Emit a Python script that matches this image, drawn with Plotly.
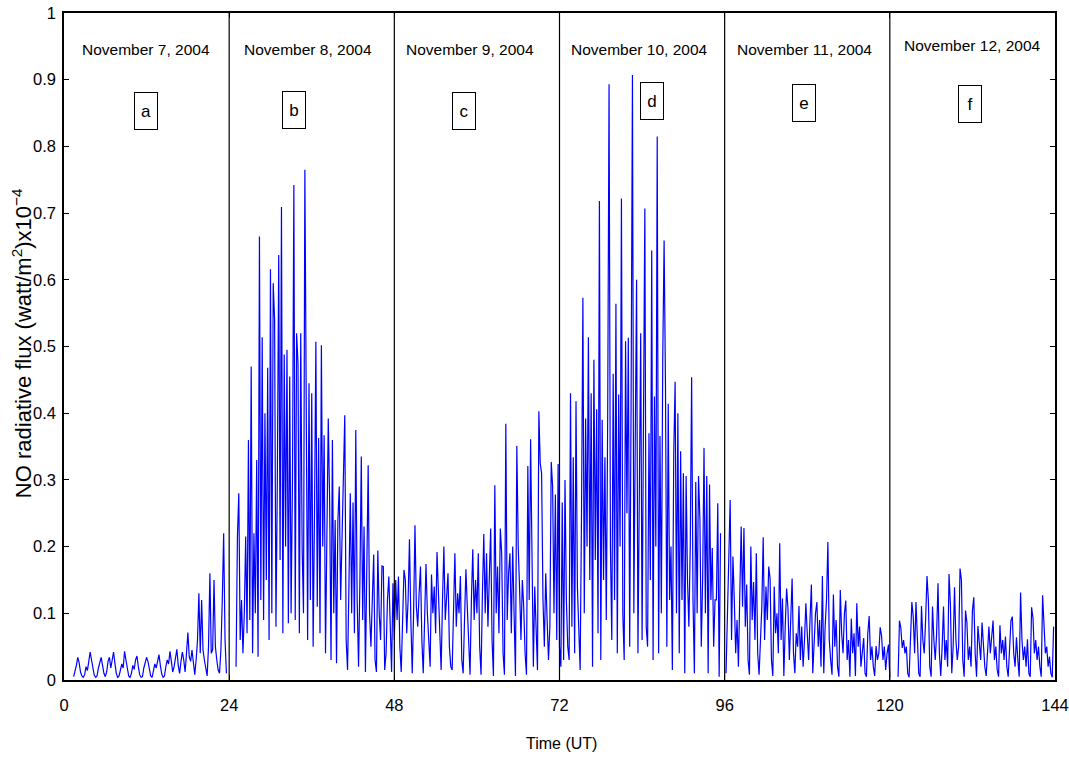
import plotly.graph_objects as go

# NO radiative flux, sampled every 0.2 h (UT hours since 00 UT on 7 Nov 2004).
# None marks hours with no data.
STEP_H = 0.2

nov07 = [
    None, None, None, None, None, None, None, 0.005,
    0.012, 0.022, 0.034, 0.026, 0.012, 0.006, 0.004, 0.008,
    0.02, 0.014, 0.028, 0.042, 0.03, 0.016, 0.007, 0.004,
    0.006, 0.018, 0.026, 0.034, 0.022, 0.01, 0.005, 0.012,
    0.028, 0.034, 0.018, 0.03, 0.042, 0.025, 0.01, 0.004,
    0.006, 0.015, 0.024, 0.018, 0.043, 0.03, 0.014, 0.006,
    0.004, 0.01, 0.022, 0.016, 0.03, 0.036, 0.02, 0.008,
    0.004, 0.005, 0.018, 0.026, 0.034, 0.028, 0.014, 0.006,
    0.004, 0.012, 0.024, 0.018, 0.03, 0.038, 0.022, 0.009,
    0.004, 0.006, 0.02, 0.03, 0.024, 0.043, 0.028, 0.012,
    0.02, 0.035, 0.046, 0.022, 0.01, 0.028, 0.042, 0.03,
    0.012, 0.04, 0.071, 0.035, 0.028, 0.045, 0.02, 0.008,
    0.03, 0.06, 0.13, 0.04, 0.12, 0.045, 0.03, 0.015,
    0.006, 0.05, 0.16, 0.04, 0.045, 0.15, 0.05, 0.03,
    0.015, 0.01, 0.045, 0.12, 0.22, 0.06, 0.01, None,
]

nov08 = [
    None, None, None, None, None, 0.02, 0.215, 0.28,
    0.06, 0.12, 0.04, 0.1, 0.215, 0.07, 0.36, 0.09,
    0.47, 0.04, 0.22, 0.1, 0.33, 0.035, 0.665, 0.12,
    0.514, 0.09, 0.40, 0.15, 0.468, 0.06, 0.616, 0.1,
    0.595, 0.54, 0.08, 0.3, 0.637, 0.18, 0.709, 0.07,
    0.488, 0.2, 0.495, 0.085, 0.455, 0.1, 0.3, 0.742,
    0.09, 0.52, 0.475, 0.07, 0.52, 0.2, 0.1, 0.765,
    0.40, 0.06, 0.445, 0.12, 0.43, 0.05, 0.25, 0.507,
    0.11, 0.363, 0.07, 0.502, 0.2, 0.367, 0.04, 0.18,
    0.392, 0.27, 0.03, 0.36, 0.1, 0.24, 0.025, 0.24,
    0.29, 0.12, 0.2, 0.315, 0.397, 0.06, 0.015, 0.14,
    0.28, 0.1, 0.266, 0.07, 0.375, 0.12, 0.02, 0.15,
    0.335, 0.09, 0.23, 0.012, 0.15, 0.322, 0.1, 0.05,
    0.12, 0.188, 0.03, 0.012, 0.194, 0.1, 0.06, 0.171,
    0.17, 0.015, 0.04, 0.12, 0.155, 0.06, 0.012, 0.145,
]

nov09 = [
    0.06, 0.15, 0.09, 0.155, 0.05, 0.012, 0.08, 0.165,
    0.15, 0.07, 0.12, 0.211, 0.09, 0.01, 0.1, 0.232,
    0.11, 0.08, 0.13, 0.17, 0.06, 0.01, 0.09, 0.174,
    0.1, 0.06, 0.02, 0.158, 0.1, 0.14, 0.07, 0.192,
    0.12, 0.05, 0.015, 0.12, 0.2, 0.09, 0.13, 0.16,
    0.05, 0.02, 0.015, 0.11, 0.19, 0.08, 0.13, 0.1,
    0.156, 0.03, 0.01, 0.09, 0.166, 0.11, 0.06, 0.008,
    0.12, 0.196, 0.09, 0.15, 0.1, 0.19, 0.05, 0.008,
    0.13, 0.219, 0.1, 0.19, 0.08, 0.14, 0.227, 0.06,
    0.006, 0.292, 0.1, 0.17, 0.07, 0.227, 0.19, 0.04,
    0.008, 0.384, 0.09, 0.16, 0.19, 0.07, 0.2, 0.1,
    0.006, 0.351, 0.2, 0.138, 0.06, 0.15, 0.11, 0.04,
    0.008, 0.321, 0.12, 0.361, 0.14, 0.02, 0.14, 0.09,
    0.015, 0.403, 0.325, 0.31, 0.12, 0.05, 0.16, 0.09,
    0.03, 0.08, 0.327, 0.29, 0.1, 0.278, 0.06, 0.324,
]

nov10 = [
    0.05, 0.02, 0.266, 0.03, 0.30, 0.12, 0.05, 0.03,
    0.43, 0.08, 0.334, 0.04, 0.418, 0.14, 0.06, 0.015,
    0.25, 0.573, 0.1, 0.392, 0.2, 0.514, 0.15, 0.43,
    0.02, 0.48, 0.18, 0.406, 0.07, 0.718, 0.03, 0.39,
    0.15, 0.334, 0.09, 0.388, 0.893, 0.2, 0.06, 0.459,
    0.12, 0.564, 0.04, 0.428, 0.2, 0.722, 0.1, 0.03,
    0.508, 0.25, 0.513, 0.05, 0.408, 0.907, 0.1, 0.345,
    0.60, 0.04, 0.3, 0.52, 0.06, 0.47, 0.707, 0.08,
    0.05, 0.37, 0.15, 0.644, 0.03, 0.425, 0.2, 0.815,
    0.04, 0.366, 0.1, 0.48, 0.659, 0.442, 0.05, 0.414,
    0.12, 0.2, 0.015, 0.34, 0.447, 0.1, 0.40, 0.04,
    0.343, 0.12, 0.31, 0.01, 0.306, 0.15, 0.08, 0.2,
    0.454, 0.12, 0.01, 0.297, 0.1, 0.306, 0.242, 0.05,
    0.15, 0.348, 0.1, 0.306, 0.01, 0.293, 0.12, 0.198,
    0.05, 0.12, 0.12, 0.265, 0.005, 0.22, None, None,
]

nov11 = [
    None, 0.01, 0.1, 0.215, 0.27, 0.06, 0.185, 0.12,
    0.04, 0.09, 0.02, 0.13, 0.23, 0.11, 0.228, 0.08,
    0.143, 0.03, 0.008, 0.2, 0.09, 0.147, 0.06, 0.19,
    0.04, 0.008, 0.07, 0.11, 0.214, 0.06, 0.14, 0.09,
    0.17, 0.152, 0.03, 0.006, 0.14, 0.07, 0.1, 0.04,
    0.205, 0.06, 0.122, 0.006, 0.08, 0.137, 0.107, 0.03,
    0.09, 0.152, 0.04, 0.01, 0.07, 0.05, 0.111, 0.03,
    0.08, 0.02, 0.06, 0.115, 0.07, 0.03, 0.09, 0.143,
    0.01, 0.06, 0.1, 0.117, 0.05, 0.09, 0.02, 0.156,
    0.01, 0.08, 0.12, 0.207, 0.06, 0.03, 0.008, 0.128,
    0.05, 0.09, 0.02, 0.005, 0.135, 0.07, 0.04, 0.1,
    0.119, 0.03, 0.06, 0.005, 0.092, 0.04, 0.07, 0.006,
    0.115, 0.05, 0.08, 0.02, 0.04, 0.063, 0.01, 0.005,
    0.07, 0.096, 0.03, 0.05, 0.02, 0.006, 0.051, 0.03,
    0.04, 0.079, 0.066, 0.03, 0.05, 0.015, 0.04, 0.053,
]

nov12 = [
    0.004, None, None, None, None, None, 0.005, 0.089,
    0.078, 0.048, 0.06, 0.04, 0.05, 0.01, 0.004, 0.06,
    0.117, 0.095, 0.04, 0.117, 0.05, 0.01, 0.005, 0.111,
    0.06, 0.04, 0.09, 0.156, 0.12, 0.02, 0.005, 0.11,
    0.06, 0.03, 0.07, 0.145, 0.04, 0.006, 0.05, 0.11,
    0.03, 0.06, 0.02, 0.159, 0.115, 0.01, 0.05, 0.139,
    0.06, 0.03, 0.05, 0.167, 0.15, 0.03, 0.005, 0.104,
    0.086, 0.03, 0.05, 0.02, 0.104, 0.124, 0.04, 0.005,
    0.081, 0.05, 0.03, 0.086, 0.05, 0.02, 0.006, 0.05,
    0.08, 0.04, 0.06, 0.089, 0.03, 0.05, 0.015, 0.005,
    0.082, 0.04, 0.06, 0.03, 0.065, 0.02, 0.005, 0.05,
    0.089, 0.095, 0.04, 0.02, 0.064, 0.03, 0.005, 0.131,
    0.06, 0.03, 0.05, 0.02, 0.061, 0.01, 0.005, 0.109,
    0.093, 0.04, 0.06, 0.03, 0.05, 0.02, 0.005, 0.127,
    0.09, 0.04, 0.05, 0.02, 0.035, 0.01, 0.004, 0.08,
]

day_labels = ["November 7, 2004", "November 8, 2004", "November 9, 2004",
              "November 10, 2004", "November 11, 2004", "November 12, 2004"]
panel_letters = ["a", "b", "c", "d", "e", "f"]
day_boundaries = [24, 48, 72, 96, 120]
x_ticks = [0, 24, 48, 72, 96, 120, 144]
y_ticks = [0, 0.1, 0.2, 0.3, 0.4, 0.5, 0.6, 0.7, 0.8, 0.9, 1]

flux = nov07 + nov08 + nov09 + nov10 + nov11 + nov12
time_ut = [round(i * STEP_H, 1) for i in range(len(flux))]

FONT = "Liberation Sans, Arial, Helvetica, sans-serif"

fig = go.Figure()
fig.add_trace(go.Scatter(
    x=time_ut, y=flux, mode="lines",
    line=dict(color="#0000ff", width=1.2),
    connectgaps=False, showlegend=False, hoverinfo="x+y",
))

# day separators
for xb in day_boundaries:
    fig.add_shape(type="line", xref="x", yref="paper", x0=xb, x1=xb, y0=0, y1=1,
                  line=dict(color="black", width=1.2), layer="above")

annotations = []
# date titles and panel letters, positioned in data coordinates
label_pos = [(11.9, 0.945), (35.4, 0.945), (59.0, 0.945),
             (83.6, 0.945), (107.6, 0.945), (132.0, 0.951)]
letter_pos = [(11.9, 0.853), (33.4, 0.855), (58.1, 0.853),
              (85.5, 0.868), (107.5, 0.865), (131.7, 0.864)]
for (lx, ly), txt in zip(label_pos, day_labels):
    annotations.append(dict(x=lx, y=ly, xref="x", yref="y", text=txt, showarrow=False,
                            font=dict(family=FONT, size=15.5, color="black"),
                            xanchor="center", yanchor="middle"))
for (lx, ly), txt in zip(letter_pos, panel_letters):
    annotations.append(dict(x=lx, y=ly, xref="x", yref="y", text=txt, showarrow=False,
                            font=dict(family=FONT, size=17, color="black"),
                            xanchor="center", yanchor="middle",
                            width=20, height=34, borderpad=1,
                            bordercolor="black", borderwidth=1, bgcolor="white"))
# axis titles
annotations.append(dict(x=-0.0424, y=0.505, xref="paper", yref="paper",
                        text="NO radiative flux (watt/m<sup>2</sup>)x10<sup>\u22124</sup>",
                        textangle=-90, showarrow=False,
                        font=dict(family=FONT, size=22, color="black"),
                        xanchor="center", yanchor="middle"))
annotations.append(dict(x=0.502, y=-0.0945, xref="paper", yref="paper",
                        text="Time (UT)", showarrow=False,
                        font=dict(family=FONT, size=16, color="black"),
                        xanchor="center", yanchor="middle"))

fig.update_layout(
    width=1069, height=758,
    margin=dict(l=64, r=14, t=13, b=78),
    paper_bgcolor="white", plot_bgcolor="white",
    annotations=annotations,
    xaxis=dict(range=[0, 144], tickvals=x_ticks, ticks="inside", ticklen=5,
               tickcolor="black", showline=True, linecolor="black", linewidth=1.5,
               mirror="ticks", showgrid=False, zeroline=False, automargin=False,
               tickfont=dict(family=FONT, size=16.5, color="black"),
               ticklabelstandoff=9, ticklabeloverflow="allow"),
    yaxis=dict(range=[0, 1], tickvals=y_ticks, ticks="inside", ticklen=5,
               tickcolor="black", showline=True, linecolor="black", linewidth=1.5,
               mirror="ticks", showgrid=False, zeroline=False, automargin=False,
               tickfont=dict(family=FONT, size=16.5, color="black"),
               ticklabelstandoff=3, ticklabeloverflow="allow"),
)

fig.write_html("out.html")
